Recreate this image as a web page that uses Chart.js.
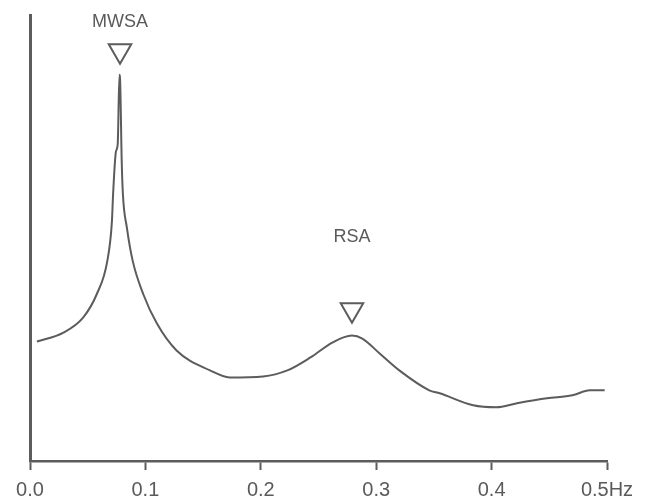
<!DOCTYPE html>
<html>
<head>
<meta charset="utf-8">
<script src="https://cdn.jsdelivr.net/npm/chart.js@4.4.1/dist/chart.umd.min.js"></script>
<style>
  html, body { margin: 0; padding: 0; background: #fff; }
  #wrap { width: 650px; height: 503px; }
</style>
</head>
<body>
<div id="wrap"><canvas id="espectro"></canvas></div>
<script>
// frecuencia (Hz) y potencia (unidades arbitrarias)
const frecuencias = [0.006, 0.029, 0.046, 0.058, 0.067, 0.071, 0.072, 0.0745, 0.076, 0.0775, 0.078, 0.0795, 0.0805,
  0.084, 0.089, 0.098, 0.110, 0.127, 0.156, 0.173, 0.202, 0.223, 0.243, 0.262, 0.279, 0.288,
  0.303, 0.320, 0.346, 0.355, 0.384, 0.404, 0.422, 0.448, 0.470, 0.485, 0.498];
const potencia = [120, 129, 144, 168, 201, 241, 268, 311, 318, 388, 385, 300, 268,
  234, 201, 168, 138, 111, 91, 84, 85, 91, 104, 119, 126, 123,
  108, 91, 71, 68, 56, 54, 58, 63, 66, 71, 71];

// marcas de los picos
const picos = ['MWSA', 'RSA'];
const picosX = [0.078, 0.279];
const trianguloY = [412, 152];
const textoY = [441, 225];

const ticksX = [0, 0.1, 0.2, 0.3, 0.4, 0.5];
const etiquetasX = ['0.0', '0.1', '0.2', '0.3', '0.4', '0.5Hz'];

const gris = '#5c5c5c';

const etiquetasPicos = {
  id: 'etiquetasPicos',
  afterDatasetsDraw(chart) {
    const ctx = chart.ctx;
    const x = chart.scales.x, y = chart.scales.y;
    ctx.save();
    ctx.fillStyle = '#5a5a5a';
    ctx.font = '18px "Liberation Sans"';
    ctx.textAlign = 'center';
    ctx.textBaseline = 'middle';
    for (let i = 0; i < picos.length; i++) {
      ctx.fillText(picos[i], x.getPixelForValue(picosX[i]), y.getPixelForValue(textoY[i]));
    }
    ctx.restore();
  }
};

new Chart(document.getElementById('espectro'), {
  type: 'scatter',
  data: {
    datasets: [{
      data: frecuencias.map((f, i) => ({x: f, y: potencia[i]})),
      showLine: true,
      borderColor: gris,
      borderWidth: 2,
      pointRadius: 0,
      cubicInterpolationMode: 'monotone'
    }, {
      data: picosX.map((f, i) => ({x: f, y: trianguloY[i]})),
      pointStyle: 'triangle',
      rotation: 180,
      pointRadius: 13,
      pointBackgroundColor: '#fff',
      pointBorderColor: gris,
      pointBorderWidth: 2
    }]
  },
  plugins: [etiquetasPicos],
  options: {
    responsive: true,
    maintainAspectRatio: false,
    animation: false,
    layout: { padding: { top: 13, right: 43, left: 0, bottom: 0 } },
    plugins: { legend: { display: false }, tooltip: { enabled: false } },
    scales: {
      x: {
        type: 'linear',
        min: 0,
        max: 0.5,
        afterFit: s => { s.height = 42; },
        afterBuildTicks: s => { s.ticks = ticksX.map(v => ({value: v})); },
        ticks: {
          color: '#5a5a5a',
          font: { size: 20, family: 'Liberation Sans' },
          padding: 8,
          maxRotation: 0,
          callback: (v) => etiquetasX[ticksX.findIndex(t => Math.abs(t - v) < 1e-9)]
        },
        grid: { drawOnChartArea: false, drawTicks: true, tickLength: 9, tickWidth: 2, tickColor: gris },
        border: { color: gris, width: 2.5 }
      },
      y: {
        min: 0,
        max: 448,
        afterFit: s => { s.width = 30; },
        ticks: { display: false },
        grid: { display: false },
        border: { color: gris, width: 3 }
      }
    }
  }
});
</script>
</body>
</html>
